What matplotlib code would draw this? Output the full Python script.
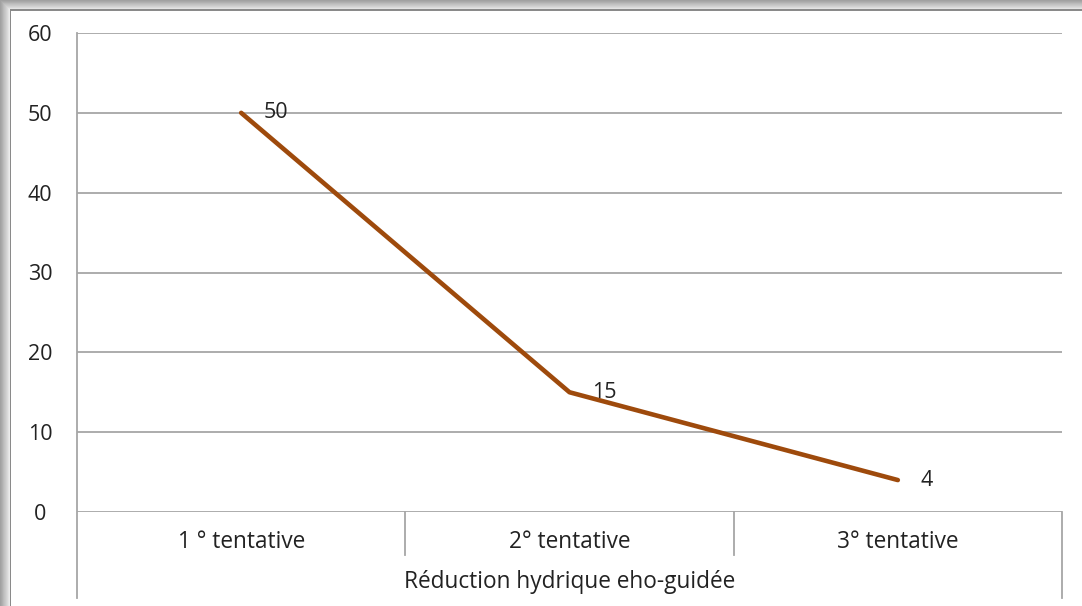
import matplotlib.pyplot as plt
import matplotlib.transforms as mtransforms
import numpy as np

plt.rcParams['font.family'] = ['Open Sans', 'DejaVu Sans']

categories = ['1 ° tentative', '2° tentative', '3° tentative']
values = [50, 15, 4]
yticks = [0, 10, 20, 30, 40, 50, 60]
xlabel = 'Réduction hydrique eho-guidée'

line_color = '#9E4A0C'
grid_color = '#A6A6A6'
text_color = '#222222'
fs = 16.3

fig = plt.figure(figsize=(10.82, 6.06), dpi=100)

# grey drop shadow on the top and left of the frame
shade = np.linspace(0.93, 0.62, 32)
for i, g in enumerate(shade):
    w = (32 - i) / 32 * 10 / 1082
    h = (32 - i) / 32 * 10 / 606
    fig.patches.append(plt.Rectangle((0, 0), w, 1, transform=fig.transFigure,
                                     color=str(g), lw=0, zorder=-5))
    fig.patches.append(plt.Rectangle((0, 1 - h), 1, h, transform=fig.transFigure,
                                     color=str(g), lw=0, zorder=-5))
fig.patches.append(plt.Rectangle((9.5 / 1082, 0), 1.2 / 1082, 1 - 9.5 / 606,
                                 transform=fig.transFigure, color='#8A8A8A', lw=0, zorder=-4))
fig.patches.append(plt.Rectangle((9.5 / 1082, 1 - 10.7 / 606), 1 - 9.5 / 1082, 1.2 / 606,
                                 transform=fig.transFigure, color='#8A8A8A', lw=0, zorder=-4))

ax = fig.add_axes([77 / 1082, 1 - 512 / 606, 985 / 1082, 479 / 606])
x = np.arange(len(categories)) + 0.5
ax.set_xlim(0, len(categories))
ax.set_ylim(0, 60)

for yv in yticks:
    ax.axhline(yv, color=grid_color, lw=1.3, zorder=1)

ax.plot(x, values, color=line_color, lw=3.3, solid_capstyle='round', zorder=3)
for xi, v in zip(x, values):
    ax.annotate(str(v), (xi, v), xytext=(16, 0), textcoords='offset points',
                ha='left', va='center', fontsize=fs - 0.8, color=text_color, zorder=4)

for s in ax.spines.values():
    s.set_visible(False)
ax.set_xticks([])
ax.set_yticks(yticks)
ax.set_yticklabels([str(v) for v in yticks], fontsize=fs - 0.8, color=text_color)
ax.tick_params(axis='y', length=0, pad=26.5)
for lbl in ax.get_yticklabels():
    lbl.set_horizontalalignment('center')

# category axis frame below the plot
trans = mtransforms.blended_transform_factory(ax.transData, ax.transAxes)
ax.plot([0, 0], [1, -0.1795], transform=trans, color=grid_color, lw=1.3, clip_on=False)
ax.plot([3, 3], [0, -0.1795], transform=trans, color=grid_color, lw=1.3, clip_on=False)
for sep in [1, 2]:
    ax.plot([sep, sep], [0, -0.09], transform=trans, color=grid_color, lw=1.3, clip_on=False)
for xi, c in zip(x, categories):
    ax.text(xi, -0.062, c, transform=trans, ha='center', va='center',
            fontsize=fs, color=text_color)
ax.text(1.5, -0.147, xlabel, transform=trans, ha='center', va='center',
        fontsize=fs, color=text_color)

fig.savefig('out.png', dpi=100)
